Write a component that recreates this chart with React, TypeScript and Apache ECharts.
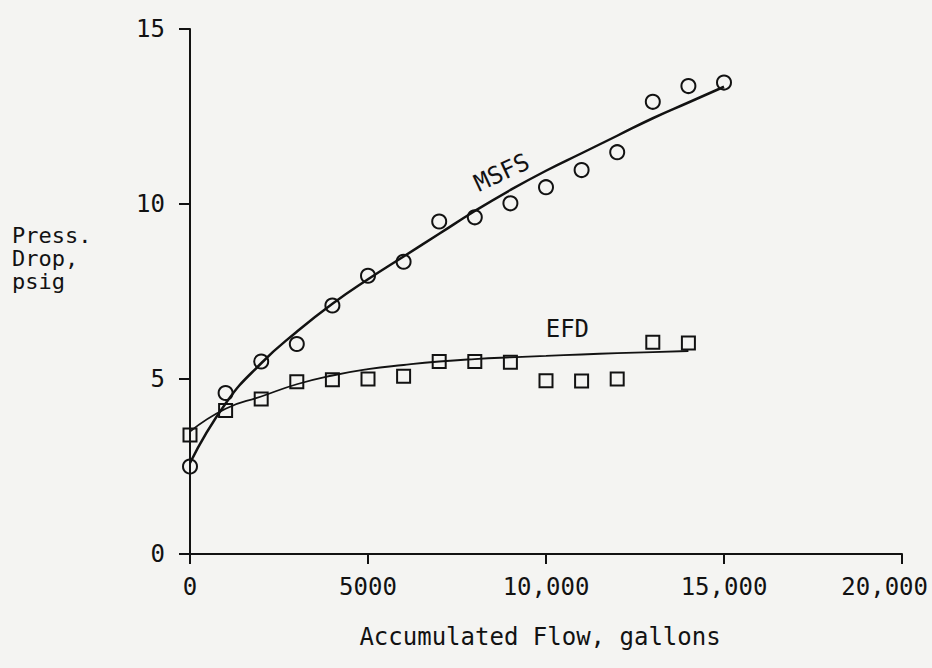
import React, { useEffect, useRef } from "react";
import * as echarts from "echarts";

const xTickLabels = ["0", "5000", "10,000", "15,000", "20,000"];
const yTickLabels = ["0", "5", "10", "15"];

// measured points (flow, gallons ; pressure drop, psig)
const msfsPoints: [number, number][] = [
  [0, 2.5], [1000, 4.6], [2000, 5.5], [3000, 6.0], [4000, 7.1], [5000, 7.95],
  [6000, 8.35], [7000, 9.5], [8000, 9.62], [9000, 10.02], [10000, 10.48],
  [11000, 10.97], [12000, 11.48], [13000, 12.92], [14000, 13.37], [15000, 13.47],
];
const efdPoints: [number, number][] = [
  [0, 3.4], [1000, 4.1], [2000, 4.43], [3000, 4.92], [4000, 4.98], [5000, 5.0],
  [6000, 5.08], [7000, 5.5], [8000, 5.5], [9000, 5.48], [10000, 4.95],
  [11000, 4.94], [12000, 5.0], [13000, 6.05], [14000, 6.03],
];
// fitted curves
const msfsCurve: [number, number][] = [
  [0, 2.6], [1000, 4.3], [2000, 5.45], [3000, 6.35], [4000, 7.15], [5000, 7.85],
  [6000, 8.5], [7000, 9.15], [8000, 9.8], [9000, 10.4], [10000, 10.95],
  [11000, 11.45], [12000, 11.95], [13000, 12.45], [14000, 12.9], [15000, 13.35],
];
const efdCurve: [number, number][] = [
  [0, 3.5], [1000, 4.15], [2000, 4.5], [3000, 4.85], [4000, 5.1], [5000, 5.28],
  [6000, 5.4], [7000, 5.5], [8000, 5.57], [9000, 5.62], [10000, 5.66],
  [11000, 5.7], [12000, 5.74], [13000, 5.77], [14000, 5.8],
];
const curveLabels = [
  { name: "MSFS", value: [8760, 10.9], rotate: 25 },
  { name: "EFD", value: [10600, 6.42], rotate: 0 },
];

const FONT = "DejaVu Sans Mono";
const INK = "#121212";

export default function App() {
  const ref = useRef<HTMLDivElement>(null);
  useEffect(() => {
    if (!ref.current) return;
    const chart = echarts.init(ref.current, undefined, { renderer: "svg" });
    chart.setOption({
      animation: false,
      backgroundColor: "#f4f4f2",
      grid: {
        left: 190,
        right: 30,
        top: 29,
        bottom: 114,
        containLabel: false,
        outerBoundsMode: "none",
      },
      xAxis: {
        type: "value",
        min: 0,
        max: 20000,
        interval: 5000,
        axisLine: { show: true, onZero: false, lineStyle: { color: INK, width: 2 } },
        axisTick: { show: true, length: 10, lineStyle: { color: INK, width: 2 } },
        splitLine: { show: false },
        axisLabel: {
          margin: 21,
          fontFamily: FONT,
          fontSize: 24,
          color: INK,
          hideOverlap: false,
          formatter: (v: number) => (v >= 20000 ? "" : xTickLabels[Math.round(v / 5000)] ?? String(v)),
        },
      },
      yAxis: {
        type: "value",
        min: 0,
        max: 15,
        interval: 5,
        axisLine: { show: true, onZero: false, lineStyle: { color: INK, width: 2 } },
        axisTick: { show: true, length: 11, lineStyle: { color: INK, width: 2 } },
        splitLine: { show: false },
        axisLabel: {
          margin: 25,
          fontFamily: FONT,
          fontSize: 24,
          color: INK,
          formatter: (v: number) => yTickLabels[Math.round(v / 5)] ?? String(v),
        },
      },
      graphic: [
        {
          type: "text",
          left: 12,
          top: 224,
          style: {
            text: "Press.\nDrop,\npsig",
            font: `22px "${FONT}"`,
            lineHeight: 23,
            fill: INK,
          },
        },
        {
          type: "text",
          x: 928,
          y: 587,
          style: {
            text: xTickLabels[4],
            font: `24px "${FONT}"`,
            fill: INK,
            align: "right",
            verticalAlign: "middle",
          },
        },
        {
          type: "text",
          x: 540,
          y: 637,
          style: {
            text: "Accumulated Flow, gallons",
            font: `24px "${FONT}"`,
            fill: INK,
            align: "center",
            verticalAlign: "middle",
          },
        },
      ],
      series: [
        {
          type: "line",
          data: msfsCurve,
          smooth: true,
          showSymbol: false,
          lineStyle: { color: INK, width: 2.5 },
          z: 2,
        },
        {
          type: "line",
          data: efdCurve,
          smooth: true,
          showSymbol: false,
          lineStyle: { color: INK, width: 1.8 },
          z: 2,
        },
        {
          type: "scatter",
          data: msfsPoints,
          symbol: "circle",
          symbolSize: 14,
          itemStyle: { color: "rgba(0,0,0,0)", borderColor: INK, borderWidth: 2, opacity: 1 },
          z: 3,
        },
        {
          type: "scatter",
          data: efdPoints,
          symbol: "rect",
          symbolSize: 13,
          itemStyle: { color: "rgba(0,0,0,0)", borderColor: INK, borderWidth: 2, opacity: 1 },
          z: 3,
        },
        {
          type: "scatter",
          symbolSize: 0,
          silent: true,
          itemStyle: { opacity: 1 },
          data: curveLabels.map((c) => ({
            name: c.name,
            value: c.value,
            label: {
              show: true,
              position: "inside",
              formatter: "{b}",
              rotate: c.rotate,
              fontFamily: FONT,
              fontSize: 24,
              color: INK,
            },
          })),
          z: 4,
        },
      ],
    });
    return () => chart.dispose();
  }, []);
  return (
    <div
      ref={ref}
      style={{ position: "fixed", left: 0, top: 0, width: 932, height: 668 }}
    />
  );
}
